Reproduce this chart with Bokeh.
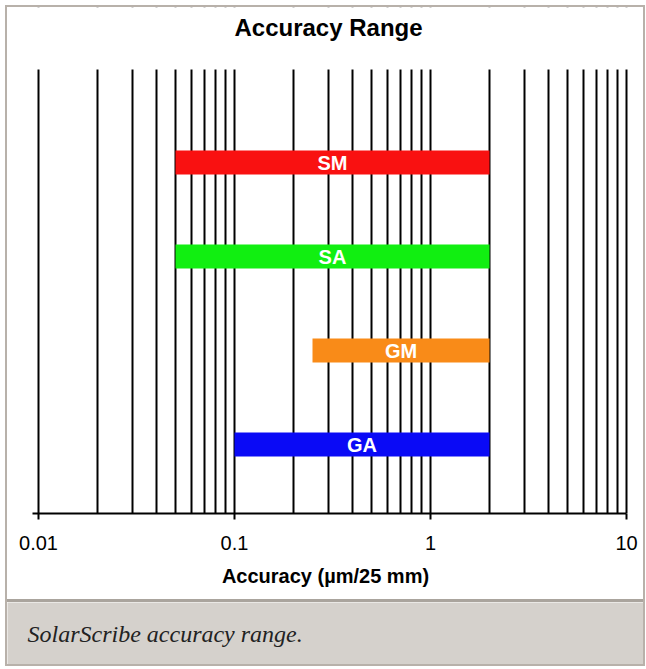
from bokeh.plotting import figure
from bokeh.layouts import column
from bokeh.models import (Range1d, FixedTicker, CustomJSTickFormatter, ColumnDataSource,
                          Label, BoxAnnotation)
from bokeh.core.properties import value
from bokeh.embed import file_html
from bokeh.resources import INLINE
import math

# ---- data ----
categories = ["SM", "SA", "GM", "GA"]
range_low = [0.05, 0.05, 0.25, 0.1]
range_high = [2, 2, 2, 2]
bar_colors = ["#f91111", "#11ef11", "#f98b18", "#0a0af6"]
major_ticks = [0.01, 0.1, 1, 10]
title_text = "Accuracy Range"
xlabel_text = "Accuracy (\u00b5m/25 mm)"
caption_text = "SolarScribe accuracy range."

n = len(categories)
ypos = [n - 1 - i for i in range(n)]
label_x = [math.sqrt(a * b) for a, b in zip(range_low, range_high)]
minor_ticks = [m * t for t in major_ticks[:-1] for m in range(2, 10)]

src = ColumnDataSource(dict(cat=categories, lo=range_low, hi=range_high,
                            y=ypos, color=bar_colors, lx=label_x))

# layout geometry (pixels)
W = 636            # inner width
FH = 506           # frame height (includes title band)
DEC = 196          # pixels per decade
LEFT_PAD, RIGHT_PAD = 31, 17
ROW = 94           # pixels between bars
Y0 = 69 / ROW      # space under lowest bar
GRID_TOP = -Y0 + 444 / ROW

x_start = major_ticks[0] / 10 ** (LEFT_PAD / DEC)
x_end = major_ticks[-1] * 10 ** (RIGHT_PAD / DEC)

p = figure(x_axis_type="log", x_range=Range1d(x_start, x_end),
           y_range=Range1d(-Y0, -Y0 + FH / ROW),
           frame_width=W, frame_height=FH,
           min_border_left=0, min_border_right=0, min_border_top=0, min_border_bottom=86,
           output_backend="svg", toolbar_location=None)
p.outline_line_color = None
p.background_fill_color = "white"
p.border_fill_color = "white"

p.yaxis.visible = False
p.ygrid.visible = False

ax = p.xaxis[0]
ax.ticker = FixedTicker(ticks=major_ticks, minor_ticks=minor_ticks)
ax.formatter = CustomJSTickFormatter(code="return String(tick);")
ax.bounds = (major_ticks[0] / 10 ** (6 / DEC), major_ticks[-1])
ax.axis_line_color = "black"
ax.axis_line_width = 2
ax.major_tick_line_color = "black"
ax.major_tick_line_width = 2
ax.major_tick_out = 6
ax.major_tick_in = 0
ax.minor_tick_out = 0
ax.minor_tick_in = 0
ax.major_label_text_font = "Liberation Sans"
ax.major_label_text_font_size = "20px"
ax.major_label_text_color = "black"
ax.major_label_standoff = 16
ax.axis_label = xlabel_text
ax.axis_label_text_font = "Liberation Sans"
ax.axis_label_text_font_size = "20px"
ax.axis_label_text_font_style = "bold"
ax.axis_label_text_color = "black"
ax.axis_label_standoff = 12

g = p.xgrid[0]
g.ticker = ax.ticker
g.grid_line_color = "black"
g.grid_line_width = 2
g.minor_grid_line_color = "black"
g.minor_grid_line_width = 2

# white band above the grid area (title band)
p.add_layout(BoxAnnotation(bottom=GRID_TOP, fill_color="white", fill_alpha=1,
                           line_color=None, level="underlay"))

p.hbar(y="y", left="lo", right="hi", height=0.255, color="color", line_color=None, source=src)
p.text(x="lx", y="y", text="cat", source=src, text_color="white",
       text_font=value("Liberation Sans"), text_font_style="bold", text_font_size="20px",
       text_align="center", text_baseline="middle")

p.add_layout(Label(x=321, y=FH - 20, x_units="screen", y_units="screen",
                   text=title_text, text_font="Liberation Sans", text_font_size="24px",
                   text_font_style="bold", text_color="black",
                   text_align="center", text_baseline="middle"))

cap = figure(frame_width=W, frame_height=62, x_range=Range1d(0, 1), y_range=Range1d(0, 1),
             x_axis_location=None, y_axis_location=None,
             min_border_left=0, min_border_right=0, min_border_top=0, min_border_bottom=0,
             output_backend="svg", toolbar_location=None)
cap.grid.visible = False
cap.outline_line_color = None
cap.background_fill_color = "#d5d1cc"
cap.border_fill_color = "#d5d1cc"
cap.add_layout(Label(x=20, y=34, x_units="screen", y_units="screen", text=caption_text,
                     text_font="Liberation Serif", text_font_style="italic",
                     text_font_size="24px", text_color="#222222", text_baseline="middle"))
cap.styles = {"border-top": "3px solid #aaa49d"}

layout = column(p, cap, spacing=0,
                styles={"border": "2px solid #b8b1aa", "background": "white",
                        "margin-left": "5px", "margin-top": "5px"})

open("out.html", "w").write(file_html(layout, INLINE))
